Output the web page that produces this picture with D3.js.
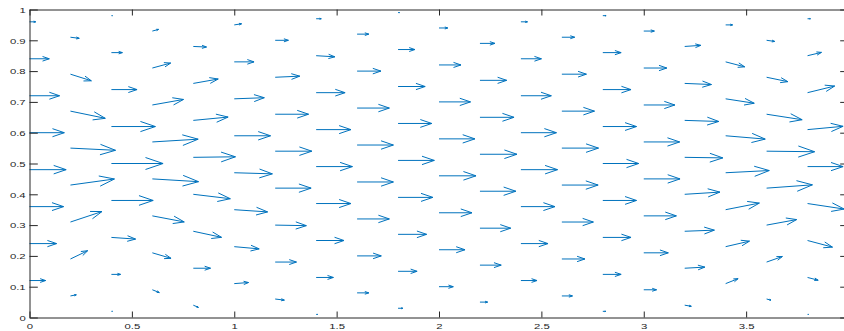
<!DOCTYPE html>
<html>
<head>
<meta charset="utf-8">
<script src="https://cdn.jsdelivr.net/npm/d3@7"></script>
<style>
  html, body { margin: 0; padding: 0; background: #fff; }
  svg { display: block; }
</style>
</head>
<body>
<script>
// Quiver field on a staggered grid: one column per x station, rows every 0.12 in y
const colX = [0, 0.2, 0.4, 0.6, 0.8, 1.0, 1.2, 1.4, 1.6, 1.8, 2.0, 2.2, 2.4, 2.6, 2.8, 3.0, 3.2, 3.4, 3.6, 3.8];
const rowStart = [0, 0.07, 0.02, 0.09, 0.04, 0.11, 0.06, 0.01, 0.08, 0.03, 0.10, 0.05, 0.00, 0.07, 0.02, 0.09, 0.04, 0.11, 0.06, 0.01];
const rowStep = 0.12;

// Horizontal velocity per column, listed from the bottom row upward
const U = [
  [0, 0.44, 0.74, 0.93, 1.00, 0.95, 0.82, 0.54, 0.17],
  [0.16, 0.47, 0.86, 1.20, 1.23, 0.95, 0.57, 0.24],
  [0.03, 0.25, 0.66, 1.14, 1.41, 1.20, 0.70, 0.30, 0.03],
  [0.19, 0.51, 0.87, 1.26, 1.25, 0.85, 0.50, 0.17],
  [0.14, 0.47, 0.77, 1.01, 1.15, 0.95, 0.68, 0.36, 0],
  [0.39, 0.68, 0.91, 1.04, 0.99, 0.82, 0.54, 0.20],
  [0.25, 0.58, 0.85, 0.98, 1.00, 0.91, 0.67, 0.36],
  [0.04, 0.47, 0.76, 0.95, 0.99, 0.95, 0.79, 0.51, 0.14],
  [0.32, 0.66, 0.88, 0.99, 0.99, 0.88, 0.65, 0.32],
  [0.13, 0.52, 0.78, 0.95, 0.99, 0.92, 0.74, 0.46, 0.04],
  [0.39, 0.71, 0.90, 1.01, 0.98, 0.86, 0.60, 0.24],
  [0.21, 0.58, 0.84, 0.98, 1.01, 0.93, 0.73, 0.41],
  [0, 0.44, 0.74, 0.93, 1.00, 0.97, 0.83, 0.56, 0.18],
  [0.29, 0.63, 0.86, 0.99, 1.00, 0.89, 0.67, 0.35],
  [0.08, 0.50, 0.77, 0.92, 0.98, 0.92, 0.77, 0.50, 0.09],
  [0.35, 0.67, 0.89, 0.99, 0.98, 0.85, 0.63, 0.29],
  [0.18, 0.55, 0.81, 0.96, 1.04, 0.93, 0.73, 0.44, 0],
  [0.34, 0.65, 0.92, 1.19, 1.08, 0.78, 0.52, 0.19],
  [0.12, 0.43, 0.82, 1.25, 1.31, 0.97, 0.58, 0.22],
  [0.03, 0.29, 0.68, 1.00, 0.97, 0.97, 0.74, 0.38, 0.08]
];

// Vertical velocity per column, same ordering as U
const V = [
  [0, 0, 0, 0, 0, 0, 0, 0, 0],
  [0.02, 0.15, 0.19, 0.11, -0.04, -0.13, -0.12, -0.02],
  [0, 0, -0.03, 0, 0, 0, 0, 0, 0],
  [-0.05, -0.10, -0.11, -0.05, 0.05, 0.10, 0.09, 0.03],
  [-0.04, 0, -0.11, -0.08, 0.01, 0.06, 0.08, -0.01, 0],
  [0.02, -0.04, -0.04, -0.02, 0, 0.02, 0, 0.02],
  [-0.02, 0, -0.01, 0, 0, 0, 0.02, 0],
  [0, 0, 0, 0, 0, 0, 0, -0.02, 0],
  [0, 0, 0, 0, 0, 0, 0, 0],
  [0, 0, 0, 0, 0, 0, 0, 0, 0],
  [0, 0, 0, 0, 0, 0, 0, 0],
  [0, 0, 0, 0, 0, 0, 0, 0],
  [0, 0, 0, 0, 0, 0, 0, 0, 0],
  [0, 0, 0, 0, 0, 0, 0, 0],
  [0, 0, 0, 0, 0, 0, 0, 0, 0],
  [0, 0, 0, 0, 0, 0, 0, 0],
  [-0.02, 0.02, 0.02, 0.04, -0.01, -0.02, -0.02, 0.02, 0],
  [0.09, 0.10, 0.12, 0.04, -0.06, -0.08, -0.09, 0],
  [-0.02, 0.10, 0.10, 0.06, -0.01, -0.10, -0.08, -0.02],
  [0, -0.05, -0.12, -0.10, 0, 0.06, 0.12, 0.06, 0]
];

// Arrow length factor (data units per unit velocity)
const quiverScale = 0.179;

const xTicks = [0, 0.5, 1, 1.5, 2, 2.5, 3, 3.5];
const xTickLabels = ["0", "0.5", "1", "1.5", "2", "2.5", "3", "3.5"];
const yTicks = [0, 0.1, 0.2, 0.3, 0.4, 0.5, 0.6, 0.7, 0.8, 0.9, 1];
const yTickLabels = ["0", "0.1", "0.2", "0.3", "0.4", "0.5", "0.6", "0.7", "0.8", "0.9", "1"];

const W = 844, H = 331;
const svg = d3.select("body").append("svg").attr("width", W).attr("height", H);

const x = d3.scaleLinear().domain([0, 4]).range([29.5, 848.5]);
const y = d3.scaleLinear().domain([0, 1]).range([317.5, 9.5]);

// Flatten the field into arrow records
const arrows = [];
colX.forEach((cx, j) => {
  U[j].forEach((u, k) => {
    const v = V[j][k];
    if (u === 0 && v === 0) return;
    arrows.push({ x0: cx, y0: rowStart[j] + k * rowStep, u, v });
  });
});

const headLen = 0.34, headWidth = 0.34;
function arrowPath(d) {
  const x1 = x(d.x0), y1 = y(d.y0);
  const x2 = x(d.x0 + quiverScale * d.u), y2 = y(d.y0 + quiverScale * d.v);
  const dx = x2 - x1, dy = y2 - y1;
  const bx = x2 - headLen * dx, by = y2 - headLen * dy;
  const px = -dy * headLen * headWidth, py = dx * headLen * headWidth;
  return `M${x1},${y1}L${x2},${y2}M${bx + px},${by + py}L${x2},${y2}L${bx - px},${by - py}`;
}

svg.append("g")
  .selectAll("path")
  .data(arrows)
  .join("path")
  .attr("d", arrowPath)
  .attr("fill", "none")
  .attr("stroke", "#0072BD")
  .attr("stroke-width", 1)
  .attr("stroke-linejoin", "miter");

// Axes box with inward ticks on all four sides
const axisColor = "#262626";
const fontFamily = "'Liberation Sans', Arial, Helvetica, sans-serif";

const gBottom = svg.append("g")
  .attr("transform", `translate(0,${y(0)})`)
  .call(d3.axisBottom(x).tickValues(xTicks).tickSizeInner(-6).tickSizeOuter(0)
    .tickFormat((d, i) => xTickLabels[i]));
const gTop = svg.append("g")
  .attr("transform", `translate(0,${y(1)})`)
  .call(d3.axisTop(x).tickValues(xTicks).tickSizeInner(-6).tickSizeOuter(0).tickFormat(""));
const gLeft = svg.append("g")
  .attr("transform", `translate(${x(0)},0)`)
  .call(d3.axisLeft(y).tickValues(yTicks).tickSizeInner(-8.3).tickSizeOuter(0)
    .tickFormat((d, i) => yTickLabels[i]));
const gRight = svg.append("g")
  .attr("transform", `translate(${x(4)},0)`)
  .call(d3.axisRight(y).tickValues(yTicks).tickSizeInner(-8.3).tickSizeOuter(0).tickFormat(""));

[gBottom, gTop, gLeft, gRight].forEach(g => {
  g.attr("color", axisColor).attr("font-family", fontFamily).attr("font-size", 8);
  g.select(".domain").attr("stroke-width", 1);
  g.selectAll(".tick line").attr("stroke-width", 1);
});

gBottom.selectAll(".tick text")
  .attr("y", 0).attr("dy", null)
  .attr("text-anchor", "middle")
  .attr("transform", "translate(0,11) scale(1.42,1)");

gLeft.selectAll(".tick text")
  .attr("x", 0).attr("dy", "0.36em")
  .attr("text-anchor", "end")
  .attr("transform", "translate(-3.8,0) scale(1.42,1)");
</script>
</body>
</html>
